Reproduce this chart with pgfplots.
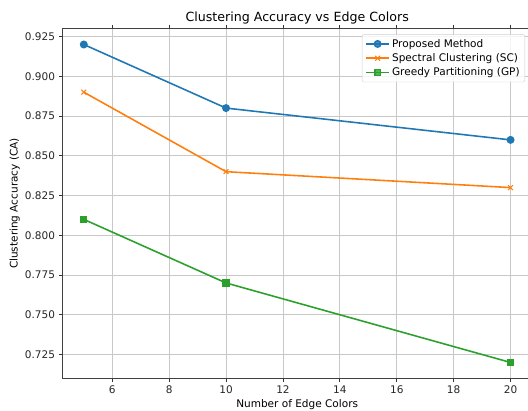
\documentclass[border=0pt]{standalone}
\usepackage{fontspec}
\setmainfont{DejaVu Sans}
\usepackage{pgfplots}
\pgfplotsset{compat=1.18}
\definecolor{tabblue}{HTML}{1F77B4}
\definecolor{taborange}{HTML}{FF7F0E}
\definecolor{tabgreen}{HTML}{2CA02C}
\definecolor{gridgray}{HTML}{C8C8C8}
\definecolor{legedge}{HTML}{D0D0D0}
\begin{document}
\begin{tikzpicture}
\begin{axis}[
  at={(0,0)}, anchor=south west,
  scale only axis,
  width=446.4pt, height=332.6pt,
  xmin=4.25, xmax=20.75,
  ymin=0.71, ymax=0.93,
  xtick={6,8,10,12,14,16,18,20},
  ytick={0.725,0.75,0.775,0.8,0.825,0.85,0.875,0.9,0.925},
  yticklabel style={/pgf/number format/.cd, fixed, fixed zerofill, precision=3},
  /pgf/number format/assume math mode=true,
  ticklabel style={font=\fontsize{10}{12}\selectfont, color=black!85},
  tick align=outside,
  major tick length=3.5pt,
  tick style={color=black!80, line width=0.8pt},
  axis line style={line width=0.8pt, color=black!75},
  grid=major,
  major grid style={color=gridgray, line width=0.8pt},
  title={Clustering Accuracy vs Edge Colors},
  title style={font=\fontsize{12}{14}\selectfont, yshift=-5pt},
  xlabel={Number of Edge Colors},
  ylabel={Clustering Accuracy (CA)},
  label style={font=\fontsize{10}{12}\selectfont},
  xlabel style={yshift=1pt},
  ylabel style={yshift=-2pt},
  clip mode=individual,
  legend cell align=left,
  legend style={at={(0.9855,0.984)}, anchor=north east,
    font=\fontsize{10}{12}\selectfont,
    draw=legedge, fill=white, fill opacity=0.8, text opacity=1,
    rounded corners=2pt, inner xsep=3pt, inner ysep=2.5pt,
    row sep=0.5pt},
  legend image code/.code={\draw[mark repeat=2, mark phase=2] plot coordinates {(0pt,0pt) (11pt,0pt) (22pt,0pt)};},
]
\addplot[color=tabblue, line width=1.5pt, mark=*, mark size=3pt, mark options={solid}]
  coordinates {(5,0.92) (10,0.88) (20,0.86)};
\addlegendentry{Proposed Method}
\addplot[color=taborange, line width=1.5pt, mark=x, mark size=3.2pt, mark options={line width=1pt}]
  coordinates {(5,0.89) (10,0.84) (20,0.83)};
\addlegendentry{Spectral Clustering (SC)}
\addplot[color=tabgreen, line width=1.5pt, mark=square*, mark size=2.7pt]
  coordinates {(5,0.81) (10,0.77) (20,0.72)};
\addlegendentry{Greedy Partitioning (GP)}
\end{axis}
\pgfresetboundingbox
\useasboundingbox (-59.4pt,-30.1pt) rectangle (442.7pt,359.8pt);
\end{tikzpicture}
\end{document}
